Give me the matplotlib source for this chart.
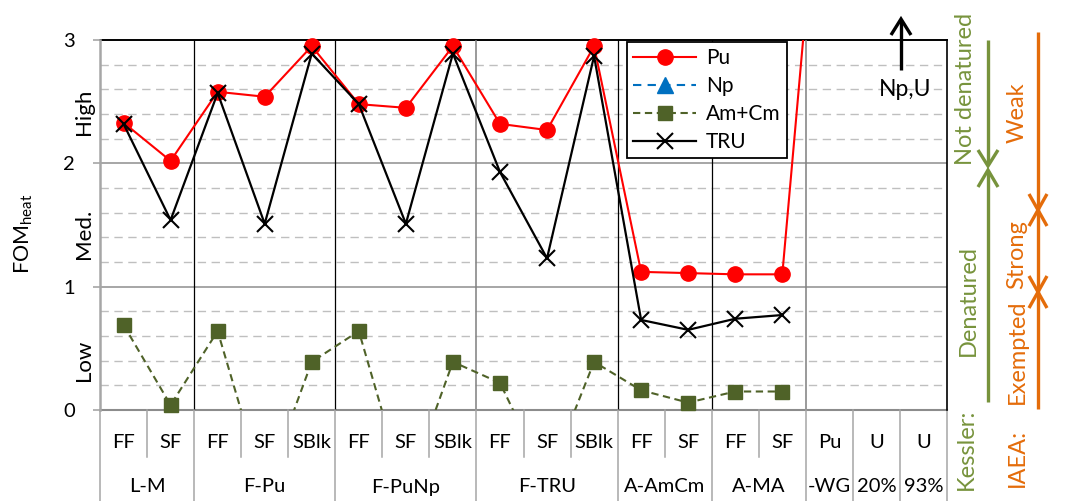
import numpy as np
import matplotlib
matplotlib.use("Agg")
import matplotlib.pyplot as plt
from matplotlib.lines import Line2D
from matplotlib.transforms import blended_transform_factory

plt.rcParams['font.family'] = ['Lato', 'DejaVu Sans']
plt.rcParams['mathtext.fontset'] = 'custom'
plt.rcParams['mathtext.rm'] = 'Lato'
plt.rcParams['mathtext.it'] = 'Lato:italic'

# ---- data -------------------------------------------------------------
subcats = ['FF', 'SF', 'FF', 'SF', 'SBlk', 'FF', 'SF', 'SBlk', 'FF', 'SF', 'SBlk',
           'FF', 'SF', 'FF', 'SF', 'Pu', 'U', 'U']
groups = ['L-M', 'F-Pu', 'F-PuNp', 'F-TRU', 'A-AmCm', 'A-MA', '-WG', '20%', '93%']
group_sizes = [2, 3, 3, 3, 2, 2, 1, 1, 1]

nan = np.nan
fom_pu = [2.33, 2.02, 2.58, 2.54, 2.95, 2.48, 2.45, 2.95, 2.32, 2.27, 2.95,
          1.12, 1.11, 1.10, 1.10, 5.40, nan, nan]
fom_amcm = [0.69, 0.04, 0.64, -0.65, 0.39, 0.64, -0.67, 0.39, 0.22, -0.57, 0.39,
            0.16, 0.06, 0.15, 0.15, nan, nan, nan]
fom_tru = [2.32, 1.54, 2.57, 1.51, 2.89, 2.48, 1.51, 2.89, 1.93, 1.23, 2.87,
           0.73, 0.65, 0.74, 0.77, nan, nan, nan]

level_labels = ['High', 'Med.', 'Low']
level_pos = [2.42, 1.43, 0.40]

# ---- figure ---------------------------------------------------------
W, H = 1067, 501
fig = plt.figure(figsize=(W / 100, H / 100), dpi=100)
ax = fig.add_axes([100 / W, 91 / H, 847 / W, 370 / H])


def fpx(x, y):
    return x / W, 1 - y / H


n = len(subcats)
xs = np.arange(n)
ax.set_xlim(-0.5, n - 0.5)
ax.set_ylim(0, 3)

# grid
for v in np.arange(0.2, 3.0, 0.2):
    if abs(v - round(v)) > 1e-6:
        ax.axhline(v, color='#BFBFBF', lw=1.0, dashes=(6, 4), zorder=0.5)
for v in (1, 2):
    ax.axhline(v, color='#A6A6A6', lw=1.4, zorder=0.6)
ax.axhline(0, color='#8C8C8C', lw=1.5, zorder=0.6, clip_on=False)
ax.axhline(3, color='black', lw=1.4, zorder=0.7, clip_on=False)

# spines
for s in ('top', 'bottom'):
    ax.spines[s].set_visible(False)
ax.spines['right'].set_color('black')
ax.spines['right'].set_linewidth(1.2)
ax.spines['left'].set_color('#A6A6A6')
ax.spines['left'].set_linewidth(1.8)

ax.set_xticks([])
ax.set_yticks([0, 1, 2, 3])
ax.set_yticklabels(['0', '1', '2', '3'], fontsize=14.5)
ax.tick_params(axis='y', direction='out', length=5, width=1.2, color='#A6A6A6', pad=13)

# group separators inside plot
sep_styles = {1.5: ('black', 0.9), 4.5: ('black', 0.9), 7.5: ('#7F7F7F', 1.1),
              10.5: ('black', 0.9), 12.5: ('black', 0.9), 14.5: ('#7F7F7F', 1.1)}
for xv, (c, lw) in sep_styles.items():
    ax.axvline(xv, color=c, lw=lw, zorder=1)

# category axis below plot
tr = blended_transform_factory(ax.transData, ax.transAxes)
row1_bot = -47 / 370
row2_bot = -91 / 370
bounds = np.cumsum([0] + group_sizes) - 0.5
for b in bounds:
    ax.plot([b, b], [0, row2_bot], transform=tr, color='#A6A6A6', lw=1.1,
            clip_on=False, zorder=1)
for i in range(n - 1):
    b = i + 0.5
    if not np.any(np.isclose(bounds, b)):
        ax.plot([b, b], [0, row1_bot], transform=tr, color='#A6A6A6', lw=1.1,
                clip_on=False, zorder=1)
for i, lab in enumerate(subcats):
    ax.text(i, -32 / 370, lab, transform=tr, ha='center', va='center', fontsize=14.5)
for g, lab in enumerate(groups):
    c = (bounds[g] + bounds[g + 1]) / 2
    ax.text(c, -77 / 370, lab, transform=tr, ha='center', va='center', fontsize=14.5)

# level labels and axis title
trl = blended_transform_factory(fig.transFigure, ax.transData)
for lab, yv in zip(level_labels, level_pos):
    t = fig.text(84 / W, 0, lab, transform=trl, rotation=90, ha='center',
                 va='center', fontsize=16)
    t.set_y(yv)
fig.text(*fpx(24, 234), r'FOM$_{\mathrm{heat}}$', rotation=90, ha='center',
         va='center', fontsize=15.5)

# ---- series ---------------------------------------------------------
red = '#FF0000'
green = '#4F6228'
blue = '#0070C0'


def in_range(vals):
    a = np.array(vals, dtype=float)
    a[(a < 0) | (a > 3)] = np.nan
    return a


ax.plot(xs, fom_amcm, color=green, lw=1.5, dashes=(3.5, 2.2), zorder=2)
ax.plot(xs, in_range(fom_amcm), ls='none', marker='s', ms=10, color=green,
        zorder=2.1, clip_on=False)
ax.plot(xs, fom_pu, color=red, lw=1.5, zorder=3)
ax.plot(xs, in_range(fom_pu), ls='none', marker='o', ms=11, color=red,
        zorder=3.1, clip_on=False)
ax.plot(xs, fom_tru, color='black', lw=1.6, zorder=4)
ax.plot(xs, in_range(fom_tru), ls='none', marker='x', ms=11, mew=1.5, color='black',
        zorder=4.1, clip_on=False)

handles = [
    Line2D([], [], color=red, lw=1.5, marker='o', ms=11),
    Line2D([], [], color=blue, lw=1.5, dashes=(4, 3), marker='^', ms=11),
    Line2D([], [], color=green, lw=1.5, dashes=(3.5, 2.2), marker='s', ms=10),
    Line2D([], [], color='black', lw=1.6, marker='x', ms=11, mew=1.5),
]
leg = ax.legend(handles, ['Pu', 'Np', 'Am+Cm', 'TRU'], loc='upper left',
                bbox_to_anchor=fpx(627, 42), bbox_transform=fig.transFigure,
                borderaxespad=0, fancybox=False, framealpha=1, fontsize=15,
                handlelength=3.0, handletextpad=0.5, labelspacing=0.38,
                borderpad=0.3)
leg.get_frame().set_edgecolor('black')
leg.get_frame().set_linewidth(1.3)
leg.set_zorder(6)

# ---- annotations to the right ------------------------------------------


def fline(pts, color, lw):
    xx = [p[0] / W for p in pts]
    yy = [1 - p[1] / H for p in pts]
    fig.add_artist(Line2D(xx, yy, color=color, lw=lw, transform=fig.transFigure,
                          solid_capstyle='butt', solid_joinstyle='miter'))


# off-scale arrow for Np and U
fline([(901, 70), (901, 21)], 'black', 2.4)
fline([(891, 35), (901, 19), (911, 35)], 'black', 2.4)
fig.text(*fpx(905, 90), 'Np,U', ha='center', va='center', fontsize=16.5)

kgreen = '#77933C'
orange = '#E46C0A'

# Kessler scale
fline([(988, 40), (988, 164)], kgreen, 2.4)
fline([(978, 150), (988, 166), (998, 150)], kgreen, 2.4)
fline([(988, 171), (988, 402)], kgreen, 2.4)
fline([(978, 187), (988, 170), (998, 187)], kgreen, 2.4)
fig.text(*fpx(966, 89), 'Not denatured', rotation=90, ha='center', va='center',
         fontsize=17, color=kgreen)
fig.text(*fpx(968, 300), 'Denatured', rotation=90, ha='center', va='center',
         fontsize=17, color=kgreen)
fig.text(*fpx(966, 449), 'Kessler:', rotation=90, ha='center', va='center',
         fontsize=17, color=kgreen)

# IAEA scale
fline([(1038, 32), (1038, 409)], orange, 2.4)
for yc in (210, 292):
    fline([(1029, yc - 16), (1038, yc), (1047, yc - 16)], orange, 2.4)
    fline([(1029, yc + 16), (1038, yc), (1047, yc + 16)], orange, 2.4)
fig.text(*fpx(1017, 113), 'Weak', rotation=90, ha='center', va='center',
         fontsize=17, color=orange)
fig.text(*fpx(1017, 255), 'Strong', rotation=90, ha='center', va='center',
         fontsize=17, color=orange)
fig.text(*fpx(1017, 352), 'Exempted', rotation=90, ha='center', va='center',
         fontsize=17, color=orange)
fig.text(*fpx(1017, 458), 'IAEA:', rotation=90, ha='center', va='center',
         fontsize=17, color=orange)

fig.savefig('out.png', dpi=100)
